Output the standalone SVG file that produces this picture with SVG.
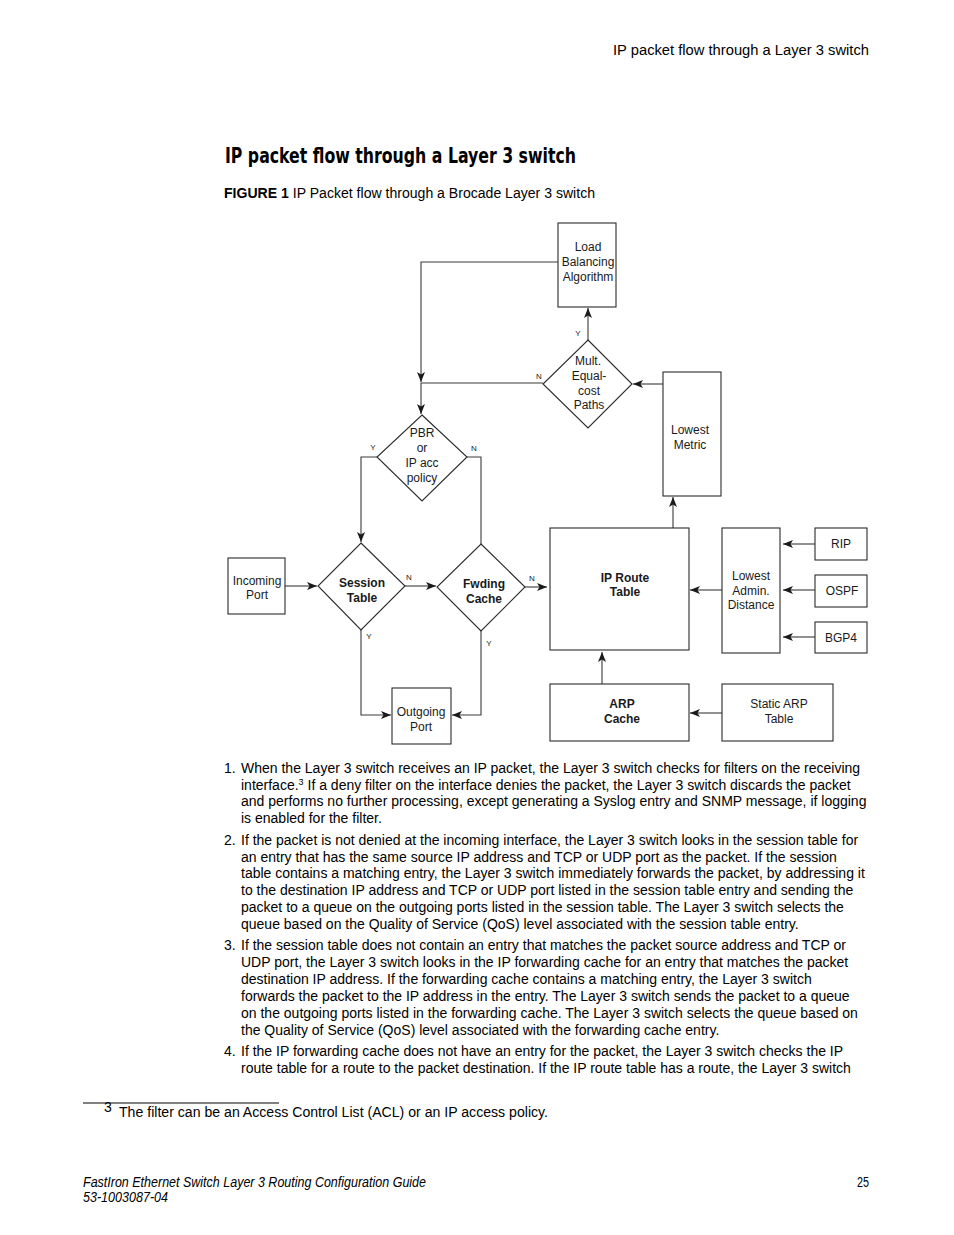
<svg xmlns="http://www.w3.org/2000/svg" width="954" height="1235" viewBox="0 0 954 1235">
<defs>
<marker id="ah" viewBox="0 0 10 8" refX="10" refY="4" markerWidth="10" markerHeight="8" markerUnits="userSpaceOnUse" orient="auto">
<path d="M0,0 L10,4 L0,8 L2.5,4 Z" fill="#1a1a1a"/>
</marker>
</defs>
<style>
.bx{fill:#fff;stroke:#2a2a2a;stroke-width:1.1}
.ln{fill:none;stroke:#3a3a3a;stroke-width:1.1}
.t{font-family:"Liberation Sans",Arial,sans-serif;font-size:12px;fill:#1a1a1a;text-anchor:middle}
.b{font-weight:bold}
.lb{font-family:"Liberation Sans",Arial,sans-serif;font-size:8px;fill:#1a1a1a;text-anchor:middle}
.p{font-family:"Liberation Sans",Arial,sans-serif;font-size:14px;fill:#000}
</style>
<rect width="954" height="1235" fill="#fff"/>

<text class="p" x="613" y="55" textLength="256" lengthAdjust="spacingAndGlyphs">IP packet flow through a Layer 3 switch</text>
<text x="225" y="163" font-family="'DejaVu Sans Condensed','Liberation Sans Narrow','Liberation Sans',sans-serif" font-weight="bold" font-size="22" textLength="351" lengthAdjust="spacingAndGlyphs" fill="#000">IP packet flow through a Layer 3 switch</text>
<text class="p" x="224" y="198" font-size="13.5" textLength="371" lengthAdjust="spacingAndGlyphs"><tspan font-weight="bold">FIGURE 1</tspan> IP Packet flow through a Brocade Layer 3 switch</text>

<g id="connectors">
<polyline class="ln" points="558,262 421,262 421,382" marker-end="url(#ah)"/>
<polyline class="ln" points="543,383 421,383 421,414" marker-end="url(#ah)"/>
<line class="ln" x1="588" y1="340" x2="588" y2="308" marker-end="url(#ah)"/>
<line class="ln" x1="663" y1="384" x2="633" y2="384" marker-end="url(#ah)"/>
<line class="ln" x1="673" y1="528" x2="673" y2="497" marker-end="url(#ah)"/>
<polyline class="ln" points="377,457 361,457 361,542" marker-end="url(#ah)"/>
<polyline class="ln" points="467,457 481,457 481,544"/>
<line class="ln" x1="285" y1="586" x2="317" y2="586" marker-end="url(#ah)"/>
<line class="ln" x1="405" y1="586" x2="436" y2="586" marker-end="url(#ah)"/>
<line class="ln" x1="525" y1="587" x2="547" y2="587" marker-end="url(#ah)"/>
<polyline class="ln" points="361,630 361,715 391,715" marker-end="url(#ah)"/>
<polyline class="ln" points="481,631 481,715 452,715" marker-end="url(#ah)"/>
<line class="ln" x1="722" y1="590" x2="690" y2="590" marker-end="url(#ah)"/>
<line class="ln" x1="815" y1="544" x2="783" y2="544" marker-end="url(#ah)"/>
<line class="ln" x1="815" y1="590" x2="783" y2="590" marker-end="url(#ah)"/>
<line class="ln" x1="815" y1="637" x2="783" y2="637" marker-end="url(#ah)"/>
<line class="ln" x1="602" y1="684" x2="602" y2="652" marker-end="url(#ah)"/>
<line class="ln" x1="722" y1="713" x2="690" y2="713" marker-end="url(#ah)"/>
<text class="lb" x="578" y="336">Y</text>
<text class="lb" x="539" y="379">N</text>
<text class="lb" x="373" y="450">Y</text>
<text class="lb" x="474" y="451">N</text>
<text class="lb" x="409" y="580">N</text>
<text class="lb" x="532" y="581">N</text>
<text class="lb" x="369" y="639">Y</text>
<text class="lb" x="489" y="646">Y</text>
</g>

<g id="load-balancing">
<rect class="bx" x="558" y="223" width="58" height="84"/>
<text class="t" x="588" y="251">Load</text>
<text class="t" x="588" y="266">Balancing</text>
<text class="t" x="588" y="281">Algorithm</text>
</g>
<g id="mult-equal-cost">
<polygon class="bx" points="588,340 632,384 588,428 543,384"/>
<text class="t" x="588" y="365">Mult.</text>
<text class="t" x="589" y="380">Equal-</text>
<text class="t" x="589" y="395">cost</text>
<text class="t" x="589" y="409">Paths</text>
</g>
<g id="lowest-metric">
<rect class="bx" x="663" y="372" width="58" height="124"/>
<text class="t" x="690" y="434">Lowest</text>
<text class="t" x="690" y="449">Metric</text>
</g>
<g id="pbr">
<polygon class="bx" points="422,415 467,457 422,501 377,457"/>
<text class="t" x="422" y="437">PBR</text>
<text class="t" x="422" y="452">or</text>
<text class="t" x="422" y="467">IP acc</text>
<text class="t" x="422" y="482">policy</text>
</g>
<g id="incoming-port">
<rect class="bx" x="228" y="558" width="57" height="56"/>
<text class="t" x="257" y="585">Incoming</text>
<text class="t" x="257" y="599">Port</text>
</g>
<g id="session-table">
<polygon class="bx" points="361,543 405,586 361,630 318,586"/>
<text class="t b" x="362" y="587">Session</text>
<text class="t b" x="362" y="602">Table</text>
</g>
<g id="fwding-cache">
<polygon class="bx" points="481,544 525,587 481,631 437,587"/>
<text class="t b" x="484" y="588">Fwding</text>
<text class="t b" x="484" y="603">Cache</text>
</g>
<g id="outgoing-port">
<rect class="bx" x="392" y="688" width="59" height="56"/>
<text class="t" x="421" y="716">Outgoing</text>
<text class="t" x="421" y="731">Port</text>
</g>
<g id="ip-route-table">
<rect class="bx" x="550" y="528" width="139" height="122"/>
<text class="t b" x="625" y="582">IP Route</text>
<text class="t b" x="625" y="596">Table</text>
</g>
<g id="lowest-admin">
<rect class="bx" x="722" y="528" width="58" height="125"/>
<text class="t" x="751" y="580">Lowest</text>
<text class="t" x="751" y="595">Admin.</text>
<text class="t" x="751" y="609">Distance</text>
</g>
<g id="rip">
<rect class="bx" x="815" y="528" width="52" height="32"/>
<text class="t" x="841" y="548">RIP</text>
</g>
<g id="ospf">
<rect class="bx" x="815" y="575" width="52" height="32"/>
<text class="t" x="842" y="595">OSPF</text>
</g>
<g id="bgp4">
<rect class="bx" x="815" y="622" width="52" height="31"/>
<text class="t" x="841" y="642">BGP4</text>
</g>
<g id="arp-cache">
<rect class="bx" x="550" y="684" width="139" height="57"/>
<text class="t b" x="622" y="708">ARP</text>
<text class="t b" x="622" y="723">Cache</text>
</g>
<g id="static-arp">
<rect class="bx" x="722" y="684" width="111" height="57"/>
<text class="t" x="779" y="708">Static ARP</text>
<text class="t" x="779" y="723">Table</text>
</g>

<g id="body">
<text class="p" x="224" y="773">1.</text>
<text class="p" x="241" y="773">When the Layer 3 switch receives an IP packet, the Layer 3 switch checks for filters on the receiving</text>
<text class="p" x="241" y="790">interface.<tspan font-size="9" dy="-5">3</tspan><tspan dy="5"> If a deny filter on the interface denies the packet, the Layer 3 switch discards the packet</tspan></text>
<text class="p" x="241" y="806">and performs no further processing, except generating a Syslog entry and SNMP message, if logging</text>
<text class="p" x="241" y="823">is enabled for the filter.</text>

<text class="p" x="224" y="845">2.</text>
<text class="p" x="241" y="845">If the packet is not denied at the incoming interface, the Layer 3 switch looks in the session table for</text>
<text class="p" x="241" y="862">an entry that has the same source IP address and TCP or UDP port as the packet. If the session</text>
<text class="p" x="241" y="878">table contains a matching entry, the Layer 3 switch immediately forwards the packet, by addressing it</text>
<text class="p" x="241" y="895">to the destination IP address and TCP or UDP port listed in the session table entry and sending the</text>
<text class="p" x="241" y="912">packet to a queue on the outgoing ports listed in the session table. The Layer 3 switch selects the</text>
<text class="p" x="241" y="929">queue based on the Quality of Service (QoS) level associated with the session table entry.</text>

<text class="p" x="224" y="950">3.</text>
<text class="p" x="241" y="950">If the session table does not contain an entry that matches the packet source address and TCP or</text>
<text class="p" x="241" y="967">UDP port, the Layer 3 switch looks in the IP forwarding cache for an entry that matches the packet</text>
<text class="p" x="241" y="984">destination IP address. If the forwarding cache contains a matching entry, the Layer 3 switch</text>
<text class="p" x="241" y="1001">forwards the packet to the IP address in the entry. The Layer 3 switch sends the packet to a queue</text>
<text class="p" x="241" y="1018">on the outgoing ports listed in the forwarding cache. The Layer 3 switch selects the queue based on</text>
<text class="p" x="241" y="1035">the Quality of Service (QoS) level associated with the forwarding cache entry.</text>

<text class="p" x="224" y="1056">4.</text>
<text class="p" x="241" y="1056">If the IP forwarding cache does not have an entry for the packet, the Layer 3 switch checks the IP</text>
<text class="p" x="241" y="1073">route table for a route to the packet destination. If the IP route table has a route, the Layer 3 switch</text>
</g>

<g id="footnote">
<line x1="83" y1="1103" x2="279" y2="1103" stroke="#000" stroke-width="1"/>
<text class="p" x="104" y="1112" font-size="9">3</text>
<text class="p" x="119" y="1117" font-size="13.5" textLength="429" lengthAdjust="spacingAndGlyphs">The filter can be an Access Control List (ACL) or an IP access policy.</text>
</g>
<g id="footer">
<text class="p" x="83" y="1187" font-size="12.5" font-style="italic" textLength="343" lengthAdjust="spacingAndGlyphs">FastIron Ethernet Switch Layer 3 Routing Configuration Guide</text>
<text class="p" x="83" y="1202" font-size="12.5" font-style="italic" textLength="85" lengthAdjust="spacingAndGlyphs">53-1003087-04</text>
<text class="p" x="857" y="1187" font-size="12.5" textLength="12" lengthAdjust="spacingAndGlyphs">25</text>
</g>
</svg>
